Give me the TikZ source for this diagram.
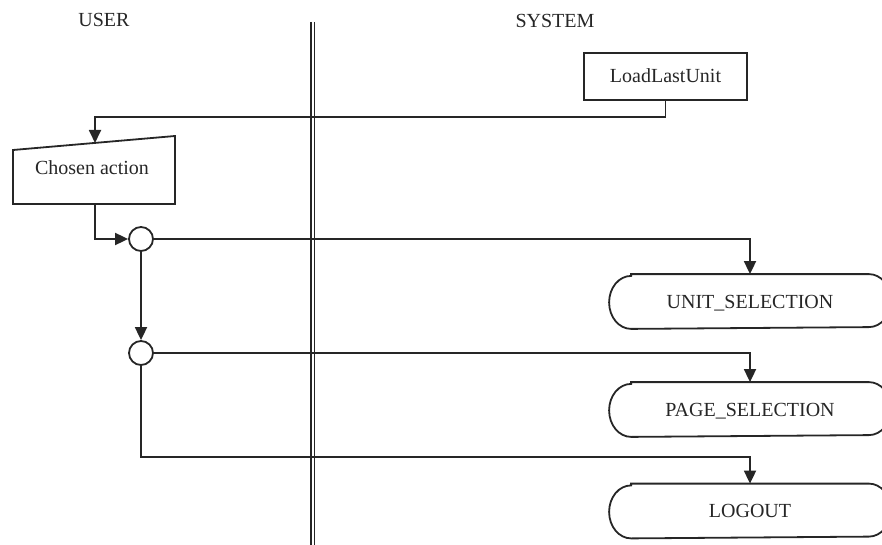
\documentclass[tikz,border=0pt]{standalone}
\usepackage{fontspec}
\setmainfont{Liberation Serif}
\usetikzlibrary{arrows.meta}
\begin{document}
\begin{tikzpicture}[x=1pt,y=-1pt,
  line width=1.8pt, draw=black!85,
  every node/.style={font=\fontsize{20}{24}\selectfont, text=black!85,
    text height=13pt, text depth=0pt, inner sep=0pt},
  arr/.style={-{Triangle[length=13pt,width=12pt]}},
  box/.style={draw, rectangle, minimum width=163pt, minimum height=47pt},
  term/.style={minimum width=280pt, minimum height=53pt},
  junc/.style={draw, circle, fill=white, minimum size=24pt, text height=0pt},
  lane/.style={line width=1.5pt}]
\useasboundingbox (0,0) rectangle (882,545);
\clip (0,0) rectangle (882,545);

% swimlane headings
\node (user) at (104,20) {USER};
\node (sys)  at (555,21) {SYSTEM};

% double divider between the lanes
\coordinate (divA) at (311,22);   \coordinate (divAend) at (311,545);
\coordinate (divB) at (314.5,22); \coordinate (divBend) at (314.5,545);
\draw[lane] (divA) -- (divAend);
\draw[lane] (divB) -- (divBend);

% system start action
\node[box] (llu) at (665.5,76.5) {LoadLastUnit};

% manual input: chosen action
\coordinate (ca1) at (13,150);
\coordinate (ca2) at (175,136);
\coordinate (ca3) at (175,204);
\coordinate (ca4) at (13,204);
\draw (ca1) -- (ca2) -- (ca3) -- (ca4) -- cycle;
\node (ca) at (92,168.5) {Chosen action};
\coordinate (catop) at (95,143);
\coordinate (cabot) at (95,204);

% decision junctions
\node[junc] (j1) at (141,239) {};
\node[junc] (j2) at (141,353) {};

% terminators
\node[term] (unit)   at (750,301.5) {UNIT\_SELECTION};
\node[term] (page)   at (750,409.5) {PAGE\_SELECTION};
\node[term] (logout) at (750,511)   {LOGOUT};
\foreach \n in {unit,page,logout}{
  \draw ([xshift=22pt]\n.north west) -- ([xshift=-22pt]\n.north east)
    arc[start angle=90, end angle=-90, x radius=22pt, y radius=26.5pt]
    -- ([xshift=22pt]\n.south west)
    arc[start angle=270, end angle=90, x radius=22pt, y radius=26.5pt]
    -- cycle;
}

% connectors
\coordinate (topbend) at (665.5,117);
\coordinate (lowbend) at (750,457);
\draw[arr] (llu.south) -- (topbend) -| (catop);
\draw[arr] (cabot) |- (j1.west);
\draw[arr] (j1.east) -| (unit.north);
\draw[arr] (j1.south) -- (j2.north);
\draw[arr] (j2.east) -| (page.north);
\draw[arr] (j2.south) |- (lowbend) -- (logout.north);
\end{tikzpicture}
\end{document}
